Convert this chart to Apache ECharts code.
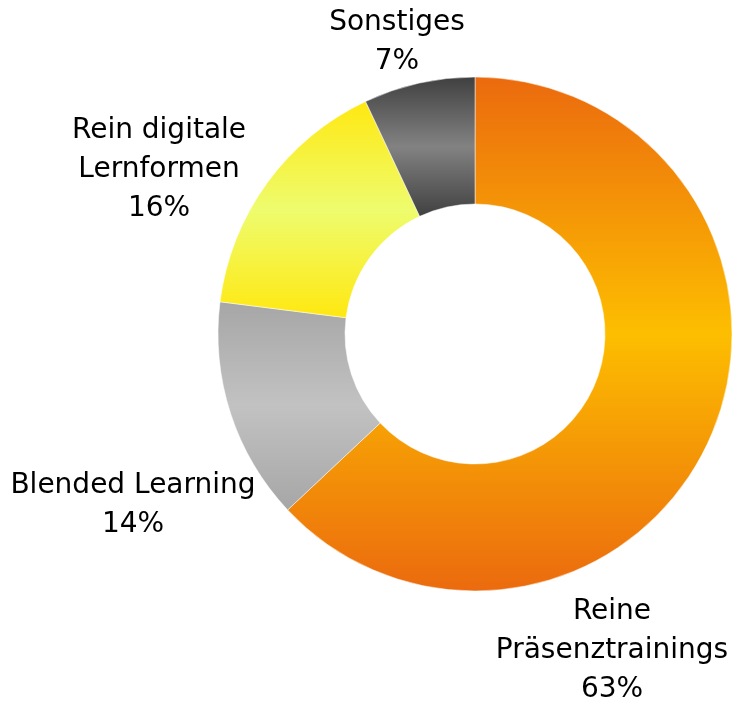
<!DOCTYPE html>
<html>
<head>
<meta charset="utf-8">
<script src="https://cdn.jsdelivr.net/npm/echarts@6/dist/echarts.min.js"></script>
<style>
  html, body { margin: 0; padding: 0; background: #fff; }
  #chart { width: 733px; height: 704px; }
</style>
</head>
<body>
<div id="chart"></div>
<script>
// Anteile der Lernformen (in %)
const categories = ['Reine\nPräsenztrainings', 'Blended Learning', 'Rein digitale\nLernformen', 'Sonstiges'];
const values = [63, 14, 16, 7];

// Verlaufsfarben je Segment: [Rand, Mitte]
const gradientColors = [
  ['#EB6A0E', '#FDBE00'],
  ['#A6A6A6', '#C2C2C2'],
  ['#FFE810', '#EEFC6E'],
  ['#404040', '#828282'],
];

// Label-Positionen (Mittelpunkt des Textblocks)
const labelPos = [
  [612, 651],
  [133, 505],
  [159, 170],
  [397, 42],
];

const chart = echarts.init(document.getElementById('chart'));

const seriesData = categories.map((name, i) => ({
  name,
  value: values[i],
  itemStyle: {
    color: new echarts.graphic.LinearGradient(0, 0, 0, 1, [
      { offset: 0, color: gradientColors[i][0] },
      { offset: 0.5, color: gradientColors[i][1] },
      { offset: 1, color: gradientColors[i][0] },
    ]),
  },
}));

const option = {
  animation: false,
  series: [
    {
      type: 'pie',
      center: [475, 334],
      radius: [130, 257],
      startAngle: 90,
      clockwise: true,
      avoidLabelOverlap: false,
      data: seriesData,
      itemStyle: {
        borderColor: '#ffffff',
        borderWidth: 0.5,
      },
      label: {
        show: true,
        position: 'outside',
        formatter: (p) => p.name + '\n' + p.value + '%',
        fontFamily: 'DejaVu Sans',
        fontSize: 28,
        lineHeight: 39,
        color: '#000000',
        align: 'center',
        overflow: 'none',
        width: 400,
      },
      labelLine: { show: false },
      labelLayout: (params) => ({
        x: labelPos[params.dataIndex][0],
        y: labelPos[params.dataIndex][1],
        align: 'center',
        verticalAlign: 'middle',
        hideOverlap: false,
        moveOverlap: false,
      }),
      emphasis: { disabled: true },
    },
  ],
};

chart.setOption(option);
</script>
</body>
</html>
